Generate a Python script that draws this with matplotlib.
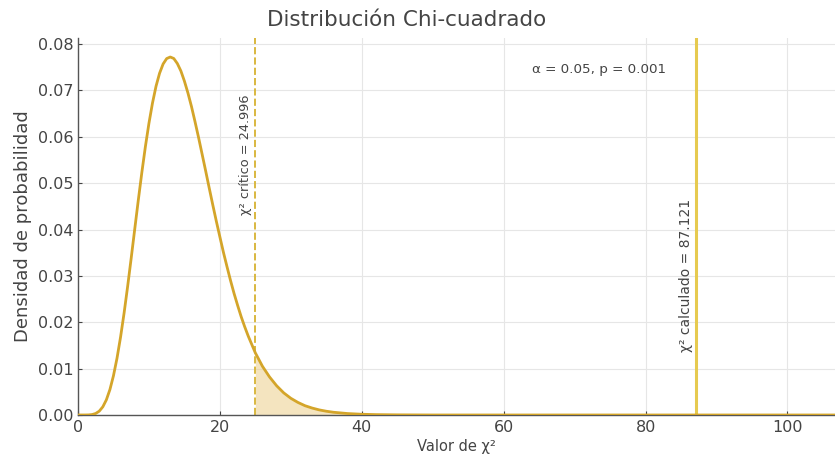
import matplotlib
matplotlib.use("Agg")
import matplotlib.pyplot as plt
import numpy as np

# Data (chi-square density curve)
chi_x = [0, 1, 1.5, 2, 2.5, 3, 3.5, 4, 4.5, 5, 5.5, 6, 6.5, 7, 7.5, 8, 8.5, 9, 9.5,
         10, 10.5, 11, 11.5, 12, 12.5, 13, 13.5, 14, 14.5, 15, 15.5, 16, 16.5,
         17, 17.5, 18, 18.5, 19, 19.5, 20, 20.5, 21, 21.5, 22, 22.5, 23, 23.5,
         24, 24.996, 26, 27, 28, 29, 30, 31, 32, 33, 34, 35, 36, 38, 40, 42, 45,
         50, 60, 80, 100, 110]
density = [0.0, 0.0000018, 0.0000194, 0.000098, 0.000327, 0.00083, 0.001763,
           0.00327, 0.005481, 0.00847, 0.01225, 0.0168, 0.02201, 0.02775,
           0.03384, 0.0401, 0.04632, 0.0523, 0.05788, 0.0629, 0.06727, 0.0709,
           0.07370, 0.0757, 0.07686, 0.0772, 0.07688, 0.0758, 0.07420, 0.0720,
           0.06942, 0.0665, 0.06322, 0.0598, 0.05621, 0.0526, 0.04892, 0.0453,
           0.04178, 0.0384, 0.03508, 0.0320, 0.02900, 0.0262, 0.02364, 0.0212,
           0.01902, 0.0170, 0.0134, 0.0105, 0.0082, 0.0063, 0.00477, 0.0036,
           0.00271, 0.0020, 0.0015, 0.0011, 0.00081, 0.00059, 0.00031, 0.00016,
           0.00008, 0.00003, 0.0, 0.0, 0.0, 0.0, 0.0]
chi_critical = 24.996
chi_calculated = 87.121
alpha = 0.05
p_value = 0.001
x_ticks = [0, 20, 40, 60, 80, 100]
y_ticks = [0.00, 0.01, 0.02, 0.03, 0.04, 0.05, 0.06, 0.07, 0.08]

text_color = "#444444"
line_color = "#D4A52A"

fig = plt.figure(figsize=(8.35, 4.61), dpi=100)
ax = fig.add_axes([0.0934, 0.0998, 0.9066, 0.8178])

xa = np.array(chi_x)
ya = np.array(density)
ax.plot(xa, ya, color=line_color, lw=2.0, zorder=3)
ax.fill_between(xa, ya, 0, where=xa >= chi_critical, color="#EBCB80", alpha=0.5,
                lw=0, zorder=2)
ax.axvline(chi_critical, color="#D9B840", lw=1.4, ls="--", zorder=2)
ax.axvline(chi_calculated, color="#E6CA50", lw=2.2, zorder=2)

ax.text(chi_critical - 0.5, 0.0561, f"χ² crítico = {chi_critical:.3f}", rotation=90,
        ha="right", va="center", fontsize=9.3, color=text_color)
ax.text(chi_calculated - 0.5, 0.0300, f"χ² calculado = {chi_calculated:.3f}", rotation=90,
        ha="right", va="center", fontsize=10, color=text_color)
ax.text(73.5, 0.0744, f"α = {alpha}, p = {p_value}", ha="center", va="center",
        fontsize=9.7, color=text_color)

ax.set_xlim(0, 106.7)
ax.set_ylim(0, 0.0813)
ax.set_xticks(x_ticks)
ax.set_yticks(y_ticks)
ax.set_yticklabels([f"{v:.2f}" for v in y_ticks])
ax.tick_params(direction="in", length=3, labelsize=11.5, colors=text_color)
ax.grid(True, color="#E6E6E6", lw=0.8)
ax.set_axisbelow(True)
for s in ["top", "right"]:
    ax.spines[s].set_visible(False)
for s in ["left", "bottom"]:
    ax.spines[s].set_color("#555555")
    ax.spines[s].set_linewidth(1.0)

fig.text(407 / 835, 1 - 20 / 461, "Distribución Chi-cuadrado", fontsize=15.5,
         color=text_color, ha="center", va="center")
ax.set_xlabel("Valor de χ²", fontsize=10.5, color=text_color, labelpad=3)
ax.set_ylabel("Densidad de probabilidad", fontsize=13, color=text_color, labelpad=4)

fig.savefig("out.png", dpi=100)
